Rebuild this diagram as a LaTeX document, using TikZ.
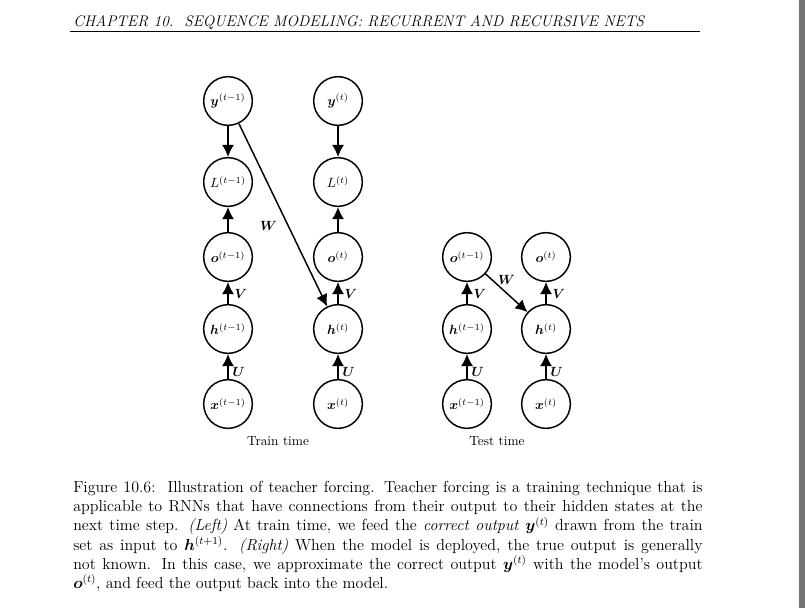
\documentclass[tikz,border=0pt]{standalone}
\usepackage{amsmath}
\usepackage{amssymb}
\usepackage{bm}
\usetikzlibrary{arrows.meta}

\begin{document}
\begin{tikzpicture}[x=0.75pt,y=-0.75pt,
    unit/.style={draw,circle,line width=1.1pt,minimum size=36.5pt,inner sep=0pt},
    conn/.style={-{Latex[length=9pt,width=9pt]},line width=1.1pt},
    wlab/.style={inner sep=2pt}]
    \useasboundingbox (0,0) rectangle (805,608);
    \fill[black!55] (799,0) rectangle (805,608);

    % running head
    \node[anchor=base west,inner sep=0pt] (head) at (73,26)
        {\fontsize{11.5}{14}\selectfont\itshape CHAPTER 10.\ \ SEQUENCE MODELING: RECURRENT AND RECURSIVE NETS};
    \draw[line width=0.5pt] (70,31) -- (700,31);

    % train time
    \node[unit] (y1) at (228,101) {$\bm{y}^{(t-1)}$};
    \node[unit] (L1) at (228,182) {$L^{(t-1)}$};
    \node[unit] (o1) at (228,257) {$\bm{o}^{(t-1)}$};
    \node[unit] (h1) at (228,329) {$\bm{h}^{(t-1)}$};
    \node[unit] (x1) at (228,404) {$\bm{x}^{(t-1)}$};
    \node[unit] (y2) at (338,101) {$\bm{y}^{(t)}$};
    \node[unit] (L2) at (338,182) {$L^{(t)}$};
    \node[unit] (o2) at (338,257) {$\bm{o}^{(t)}$};
    \node[unit] (h2) at (338,329) {$\bm{h}^{(t)}$};
    \node[unit] (x2) at (338,404) {$\bm{x}^{(t)}$};

    \draw[conn] (y1) -- (L1);
    \draw[conn] (o1) -- (L1);
    \draw[conn] (h1) -- node[wlab,right=2.5pt,pos=0.45]{$\bm{V}$} (o1);
    \draw[conn] (x1) -- node[wlab,right=1pt,pos=0.3]{$\bm{U}$} (h1);
    \draw[conn] (y2) -- (L2);
    \draw[conn] (o2) -- (L2);
    \draw[conn] (h2) -- node[wlab,right=2.5pt,pos=0.45]{$\bm{V}$} (o2);
    \draw[conn] (x2) -- node[wlab,right=1pt,pos=0.3]{$\bm{U}$} (h2);
    \draw[conn] (y1) -- node[wlab,left=6pt,pos=0.56]{$\bm{W}$} (h2);

    \node (train) at (278,441) {Train time};

    % test time
    \node[unit] (to1) at (467,257) {$\bm{o}^{(t-1)}$};
    \node[unit] (th1) at (467,329) {$\bm{h}^{(t-1)}$};
    \node[unit] (tx1) at (467,404) {$\bm{x}^{(t-1)}$};
    \node[unit] (to2) at (546,257) {$\bm{o}^{(t)}$};
    \node[unit] (th2) at (546,329) {$\bm{h}^{(t)}$};
    \node[unit] (tx2) at (546,404) {$\bm{x}^{(t)}$};

    \draw[conn] (th1) -- node[wlab,right=2.5pt,pos=0.45]{$\bm{V}$} (to1);
    \draw[conn] (tx1) -- node[wlab,right=1pt,pos=0.3]{$\bm{U}$} (th1);
    \draw[conn] (th2) -- node[wlab,right=2.5pt,pos=0.45]{$\bm{V}$} (to2);
    \draw[conn] (tx2) -- node[wlab,right=1pt,pos=0.3]{$\bm{U}$} (th2);
    \draw[conn] (to1) -- node[wlab,above=4pt,pos=0.5]{$\bm{W}$} (th2);

    \node (test) at (497,441) {Test time};

    % caption
    \node[anchor=north west,inner sep=0pt,text width=472pt,align=justify,
          font=\fontsize{12}{14.4}\selectfont] (cap) at (73,481)
        {Figure 10.6:\ \ Illustration of teacher forcing. Teacher forcing is a training technique that is
        applicable to RNNs that have connections from their output to their hidden states at the
        next time step. \textit{(Left)} At train time, we feed the \textit{correct output} $\bm{y}^{(t)}$ drawn from the train
        set as input to $\bm{h}^{(t+1)}$. \textit{(Right)} When the model is deployed, the true output is generally\linebreak
        not known. In this case, we approximate the correct output $\bm{y}^{(t)}$ with the model's output\linebreak
        $\bm{o}^{(t)}$, and feed the output back into the model.};
\end{tikzpicture}
\end{document}
